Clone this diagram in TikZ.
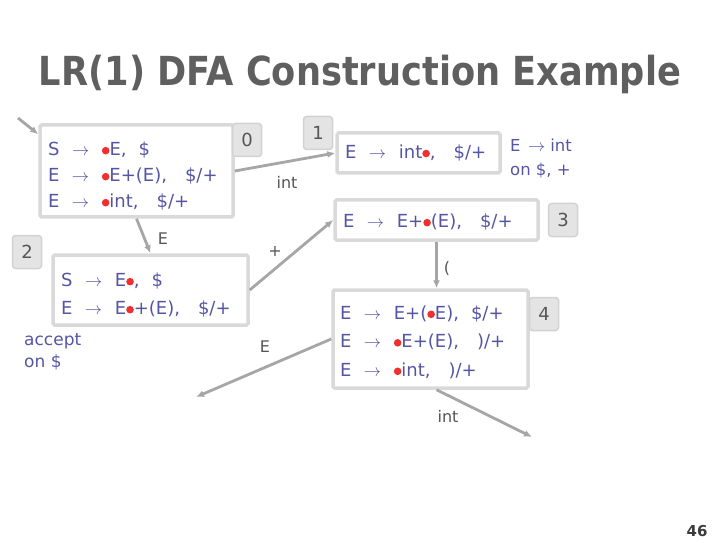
\documentclass[tikz,border=0pt]{standalone}
\usepackage{fontspec}
\setmainfont{DejaVu Sans}
\newfontfamily\titlefont{DejaVu Sans}[FakeStretch=0.88]
\usetikzlibrary{arrows.meta}
\definecolor{itemblue}{HTML}{5555A5}
\definecolor{boxgray}{HTML}{D9D9D9}
\definecolor{numfill}{HTML}{E4E4E4}
\definecolor{numdraw}{HTML}{D2D2D2}
\definecolor{linegray}{HTML}{A6A6A6}
\definecolor{labgray}{HTML}{555555}
\definecolor{titlegray}{HTML}{5F5F5F}
\definecolor{dotred}{HTML}{F03030}
\newcommand\myarr{\hspace{0.7em}$\rightarrow$\hspace{0.7em}}
\newcommand\rdot{\tikz[baseline=-5pt]\fill[dotred] (0,0) circle (3.8pt);}
\newcommand\lift[1]{\rule{0pt}{#1}}
\begin{document}
\begin{tikzpicture}[x=1pt,y=-1pt,
  state/.style={draw=boxgray, line width=3.5pt, fill=white, rounded corners=1.5pt,
    align=left, text=itemblue, font=\fontsize{18}{26}\selectfont, inner xsep=7pt, inner ysep=0pt},
  num/.style={draw=numdraw, line width=1.5pt, fill=numfill, rounded corners=3pt,
    text=labgray, font=\fontsize{18}{18}\selectfont, minimum width=29pt, minimum height=33pt},
  trans/.style={draw=linegray, line width=2.8pt, -{Latex[length=8pt,width=7pt]}},
  lab/.style={text=labgray, font=\fontsize{16}{18}\selectfont},
  anno/.style={text=itemblue, align=left, inner sep=0pt}]
\useasboundingbox (0,0) rectangle (720,540);
\node[anchor=base, font=\titlefont\bfseries\fontsize{40}{42}\selectfont, text=titlegray] (title) at (360,86) {LR(1) DFA Construction Example};

\node[state, minimum width=193pt, minimum height=92pt, text width=177pt] (b0) at (136.5,171)
  {\lift{24pt}S\myarr\rdot E, \ \$\\ E\myarr\rdot E+(E), \ \ \$/+\\ E\myarr\rdot int, \ \ \$/+};
\node[state, minimum width=163pt, minimum height=40pt, text width=147pt] (b1) at (418.5,153)
  {E\myarr int\rdot, \ \ \$/+};
\node[state, minimum width=195pt, minimum height=70pt, text width=179pt,
  font=\fontsize{18}{28}\selectfont] (b2) at (150.5,290)
  {\lift{24pt}S\myarr E\rdot, \ \$\\ E\myarr E\rdot+(E), \ \ \$/+};
\node[state, minimum width=203pt, minimum height=40pt, text width=187pt] (b3) at (436.5,220)
  {\lift{18pt}E\myarr E+\rdot(E), \ \ \$/+};
\node[state, minimum width=195pt, minimum height=98pt, text width=181pt, inner xsep=6pt,
  font=\fontsize{18}{28.5}\selectfont] (b4) at (430.5,339)
  {\lift{20pt}E\myarr E+(\rdot E), \ \$/+\\ E\myarr\rdot E+(E), \ \ )/+\\ E\myarr\rdot int, \ \ )/+};

\node[num] (n0) at (247,140) {0};
\node[num] (n1) at (318,133) {1};
\node[num] (n2) at (27,252) {2};
\node[num] (n3) at (563,220) {3};
\node[num] (n4) at (544,314) {4};

\node[anno, anchor=north west, font=\fontsize{16.5}{24}\selectfont] (a1) at (510,139)
  {E\hspace{0.45em}$\rightarrow$\hspace{0.3em}int\\on \$, +};
\node[anno, anchor=north west, font=\fontsize{17}{22}\selectfont] (a2) at (24,333) {accept\\on \$};

\coordinate (st) at (18,118);
\coordinate (eE) at (196,397);
\coordinate (eI) at (532,437);

\draw[trans] (st) -- ([yshift=-11pt]b0.north west);
\draw[trans] (b0.east) -- (b1.west);
\draw[trans] (b0.south) -- (b2.north);
\draw[trans] (b2.east) -- (b3.west);
\draw[trans] (b3.south) -- (b3.south |- b4.north);
\draw[trans] (b4.west) -- (eE);
\draw[trans] ([xshift=6pt]b4.south) -- (eI);

\node[lab] (l01) at (287,182) {int};
\node[lab] (l02) at (163,239) {E};
\node[lab] (l23) at (275,251) {+};
\node[lab] (l34) at (447,268) {(};
\node[lab] (l4E) at (265,347) {E};
\node[lab] (l4i) at (448,416) {int};
\node[font=\bfseries\fontsize{15}{15}\selectfont, text=labgray!70!black] (pg) at (697,531) {46};
\end{tikzpicture}
\end{document}
